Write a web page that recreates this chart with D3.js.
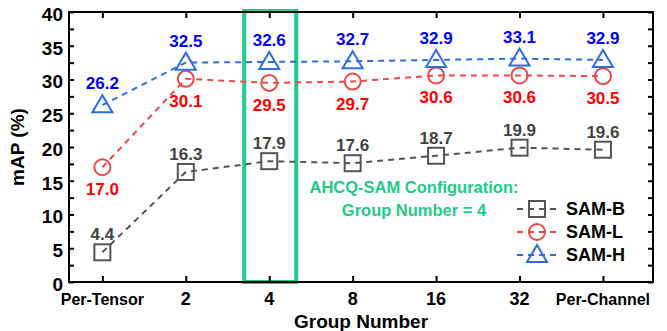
<!DOCTYPE html>
<html>
<head>
<meta charset="utf-8">
<script src="https://cdn.jsdelivr.net/npm/d3@7"></script>
<style>
  body { margin: 0; background: #fff; }
  svg { display: block; font-family: "Liberation Sans", Arial, sans-serif; }
</style>
</head>
<body>
<div id="chart"></div>
<script>
// data
const groups = ["Per-Tensor", "2", "4", "8", "16", "32", "Per-Channel"];
const samB = [4.4, 16.3, 17.9, 17.6, 18.7, 19.9, 19.6];
const samL = [17.0, 30.1, 29.5, 29.7, 30.6, 30.6, 30.5];
const samH = [26.2, 32.5, 32.6, 32.7, 32.9, 33.1, 32.9];
const yTicks = [0, 5, 10, 15, 20, 25, 30, 35, 40];

const series = [
    { name: "SAM-B", values: samB, color: "#555555", text: "#444444", marker: "square", labelDy: -12 },
    { name: "SAM-L", values: samL, color: "#f04848", text: "#ff0000", marker: "circle", labelDy: 28 },
    { name: "SAM-H", values: samH, color: "#2e6fe0", text: "#0000ff", marker: "triangle", labelDy: -16 }
];

const W = 667, H = 331;
const margin = { top: 12, right: 14, bottom: 49, left: 69 };

const svg = d3.select("#chart").append("svg")
    .attr("width", W)
    .attr("height", H)
    .attr("viewBox", [0, 0, W, H]);

const xScale = d3.scaleLinear([-0.4, groups.length - 0.4], [margin.left, W - margin.right]);
const yScale = d3.scaleLinear([0, 40], [H - margin.bottom, margin.top]);

// highlight box around group 4
const hx = xScale(2);
svg.append("rect")
    .attr("x", hx - 25)
    .attr("y", yScale(40) - 1)
    .attr("width", 52)
    .attr("height", yScale(0) - yScale(40) + 1)
    .attr("fill", "none")
    .attr("stroke", "#22cc88")
    .attr("stroke-width", 4);

// axes (ticks inward)
const xIdx = d3.range(groups.length);
svg.append("g")
    .attr("transform", `translate(0,${yScale(0)})`)
    .call(d3.axisBottom(xScale).tickValues(xIdx).tickSize(-6).tickFormat(() => ""))
    .call(g => g.select(".domain").remove());
svg.append("g")
    .attr("transform", `translate(0,${yScale(40)})`)
    .call(d3.axisTop(xScale).tickValues(xIdx).tickSize(-6).tickFormat(() => ""))
    .call(g => g.select(".domain").remove());

const minor = d3.range(0, 40.1, 2.5);
svg.append("g")
    .attr("transform", `translate(${margin.left},0)`)
    .call(d3.axisLeft(yScale).tickValues(minor).tickSize(-5).tickFormat(() => ""))
    .call(g => g.select(".domain").remove());
svg.append("g")
    .attr("transform", `translate(${W - margin.right},0)`)
    .call(d3.axisRight(yScale).tickValues(minor).tickSize(-5).tickFormat(() => ""))
    .call(g => g.select(".domain").remove());

svg.selectAll(".tick line").attr("stroke", "#000").attr("stroke-width", 2);

// frame
svg.append("rect")
    .attr("x", margin.left)
    .attr("y", yScale(40))
    .attr("width", W - margin.right - margin.left)
    .attr("height", yScale(0) - yScale(40))
    .attr("fill", "none")
    .attr("stroke", "#000")
    .attr("stroke-width", 2);

// tick labels
svg.append("g").selectAll("text")
    .data(yTicks)
    .join("text")
    .attr("x", margin.left - 6)
    .attr("y", d => yScale(d) + 2)
    .attr("dy", "0.36em")
    .attr("text-anchor", "end")
    .attr("font-size", 19)
    .attr("font-weight", "bold")
    .text(d => d);

svg.append("g").selectAll("text")
    .data(groups)
    .join("text")
    .attr("x", (d, i) => xScale(i))
    .attr("y", yScale(0) + 23)
    .attr("text-anchor", "middle")
    .attr("font-size", d => d.length > 2 ? 16 : 18)
    .attr("font-weight", "bold")
    .text(d => d);

// axis titles
svg.append("text")
    .attr("transform", `translate(24,${(yScale(0) + yScale(40)) / 2}) rotate(-90)`)
    .attr("text-anchor", "middle")
    .attr("font-size", 19)
    .attr("font-weight", "bold")
    .text("mAP (%)");

svg.append("text")
    .attr("x", (margin.left + W - margin.right) / 2)
    .attr("y", 328)
    .attr("text-anchor", "middle")
    .attr("font-size", 19)
    .attr("font-weight", "bold")
    .text("Group Number");

// markers
function drawMarker(g, type, x, y, color) {
    if (type === "square") {
        g.append("rect").attr("x", x - 8).attr("y", y - 8).attr("width", 16).attr("height", 16)
            .attr("fill", "none").attr("stroke", color).attr("stroke-width", 2);
    } else if (type === "circle") {
        g.append("circle").attr("cx", x).attr("cy", y).attr("r", 8)
            .attr("fill", "none").attr("stroke", color).attr("stroke-width", 2);
    } else {
        g.append("path").attr("d", `M${x},${y - 10}L${x + 10},${y + 7}L${x - 10},${y + 7}Z`)
            .attr("fill", "none").attr("stroke", color).attr("stroke-width", 2);
    }
}

for (const s of series) {
    const g = svg.append("g");
    g.append("path")
        .datum(s.values)
        .attr("fill", "none")
        .attr("stroke", s.color)
        .attr("stroke-width", 2)
        .attr("stroke-dasharray", "6,5")
        .attr("d", d3.line().x((_, i) => xScale(i)).y(d => yScale(d)));
    s.values.forEach((v, i) => drawMarker(g, s.marker, xScale(i), yScale(v), s.color));
    g.selectAll("text.lab")
        .data(s.values)
        .join("text")
        .attr("x", (_, i) => xScale(i))
        .attr("y", d => yScale(d) + s.labelDy)
        .attr("text-anchor", "middle")
        .attr("font-size", 17)
        .attr("font-weight", "bold")
        .attr("fill", s.text)
        .text(d => d.toFixed(1));
}

// annotation
const note = svg.append("g")
    .attr("fill", "#22cc88")
    .attr("font-size", 16.5)
    .attr("font-weight", "bold")
    .attr("text-anchor", "middle");
note.append("text").attr("x", 414).attr("y", 193).text("AHCQ-SAM Configuration:");
note.append("text").attr("x", 414).attr("y", 216).text("Group Number = 4");

// legend
const legend = svg.append("g");
series.forEach((s, i) => {
    const ly = 209 + i * 23;
    legend.append("line")
        .attr("x1", 517).attr("x2", 557)
        .attr("y1", ly).attr("y2", ly)
        .attr("stroke", s.color).attr("stroke-width", 2)
        .attr("stroke-dasharray", "6,5");
    drawMarker(legend, s.marker, 537, ly, s.color);
    legend.append("text")
        .attr("x", 566).attr("y", ly)
        .attr("dy", "0.36em")
        .attr("font-size", 18)
        .attr("font-weight", "bold")
        .text(s.name);
});
</script>
</body>
</html>
